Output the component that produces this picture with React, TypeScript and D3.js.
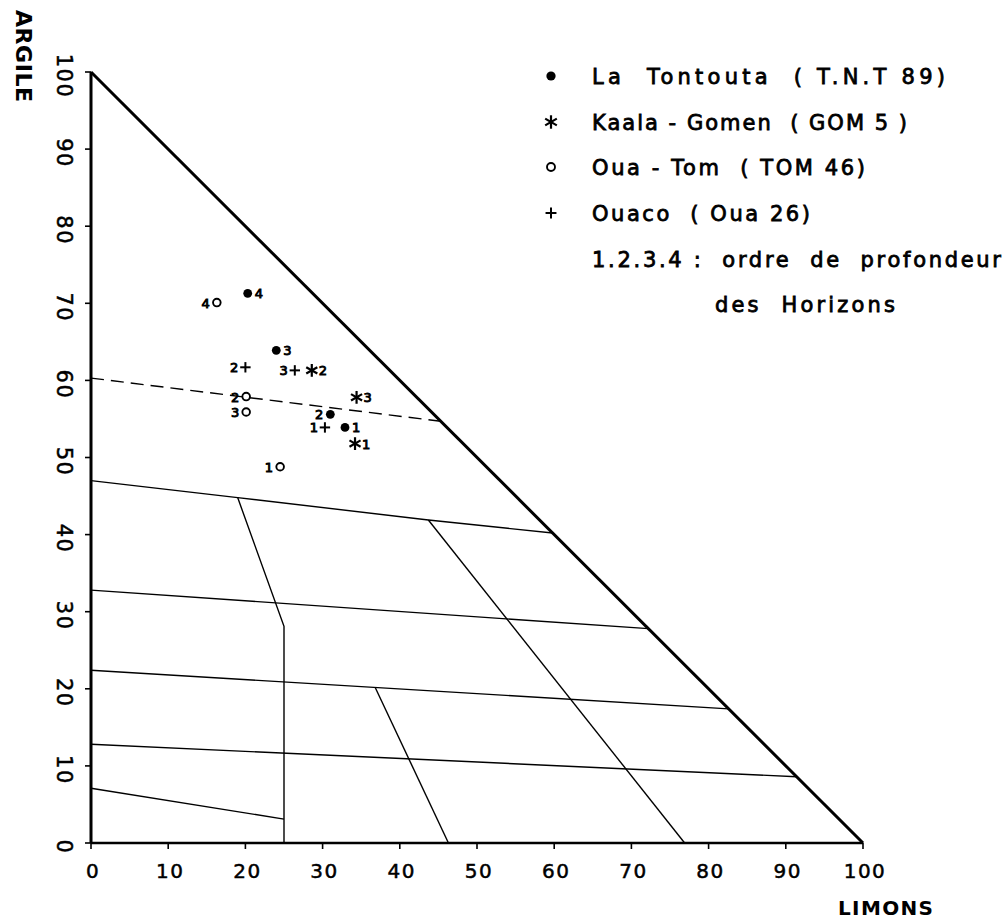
import React from 'react'
import * as d3 from 'd3'

const width = 1005
const height = 922

const limonsTicks = [0, 10, 20, 30, 40, 50, 60, 70, 80, 90, 100]
const argileTicks = [0, 10, 20, 30, 40, 50, 60, 70, 80, 90, 100]

// class boundaries, [limons, argile]
const boundaryA = [[0, 47], [19, 44.8], [43.7, 41.9], [59.8, 40.2]]
const boundaryB = [[0, 32.8], [72.2, 27.8]]
const boundaryC = [[0, 22.4], [82.6, 17.4]]
const boundaryD = [[0, 12.8], [91.4, 8.6]]
const boundaryE = [[0, 7.1], [25, 3.1]]
const divider1 = [[19, 44.8], [25, 28.1], [25, 0]]
const divider2 = [[43.7, 41.9], [76.9, 0]]
const divider3 = [[36.8, 20.2], [46.3, 0]]
const dashedBoundary = [[0, 60.3], [45.3, 54.7]]

// horizons: [horizon, limons, argile]
const tontouta = [[1, 32.9, 53.9], [2, 31.0, 55.6], [3, 24.0, 63.9], [4, 20.3, 71.3]]
const kaalaGomen = [[1, 34.2, 51.8], [2, 28.6, 61.3], [3, 34.4, 57.8]]
const ouaTom = [[1, 24.5, 48.8], [2, 20.1, 57.9], [3, 20.1, 55.9], [4, 16.3, 70.1]]
const ouaco = [[1, 30.3, 53.9], [2, 20.0, 61.7], [3, 26.4, 61.3]]

const legendLabels = [
  'La  Tontouta  ( T.N.T 89)',
  'Kaala - Gomen  ( GOM 5 )',
  'Oua - Tom  ( TOM 46)',
  'Ouaco  ( Oua 26)',
  '1.2.3.4 :  ordre  de  profondeur',
  'des  Horizons',
]

const font = '"DejaVu Sans", sans-serif'

function Marker({ kind, cx, cy, s = 1 }: { kind: string; cx: number; cy: number; s?: number }) {
  if (kind === 'dot') return <circle cx={cx} cy={cy} r={4.4 * s} fill="#000" />
  if (kind === 'ring') return <circle cx={cx} cy={cy} r={3.8 * s} fill="none" stroke="#000" strokeWidth={1.9} />
  if (kind === 'plus') {
    const a = 5.2 * s
    return (
      <g stroke="#000" strokeWidth={2}>
        <line x1={cx - a} y1={cy} x2={cx + a} y2={cy} />
        <line x1={cx} y1={cy - a} x2={cx} y2={cy + a} />
      </g>
    )
  }
  const r = 6.4 * s
  return (
    <g stroke="#000" strokeWidth={2.2}>
      {[90, 30, 150].map(deg => {
        const t = (deg * Math.PI) / 180
        return <line key={deg} x1={cx - r * Math.cos(t)} y1={cy - r * Math.sin(t)} x2={cx + r * Math.cos(t)} y2={cy + r * Math.sin(t)} />
      })}
    </g>
  )
}

export default function App() {
  const x = d3.scaleLinear().domain([0, 100]).range([91, 863])
  const y = d3.scaleLinear().domain([0, 100]).range([843, 72])
  const line = d3.line<number[]>().x(d => x(d[0])).y(d => y(d[1]))

  const thinLines = [boundaryA, boundaryB, boundaryC, boundaryD, boundaryE, divider1, divider2, divider3]

  const series = [
    { kind: 'dot', data: tontouta, left: [2] },
    { kind: 'star', data: kaalaGomen, left: [] as number[] },
    { kind: 'ring', data: ouaTom, left: [1, 2, 3, 4] },
    { kind: 'plus', data: ouaco, left: [1, 2, 3] },
  ]

  const legendY = [76, 122, 167, 213, 259, 304]
  const legendEnd = [945, 907, 865, 810, 1001, 895]
  const legendKinds = ['dot', 'star', 'ring', 'plus']

  return (
    <svg width={width} height={height} style={{ position: 'absolute', left: 0, top: 0, background: '#fff' }}>
      <rect width={width} height={height} fill="#fff" />

      {thinLines.map((l, i) => (
        <path key={i} d={line(l) || ''} fill="none" stroke="#000" strokeWidth={1.4} />
      ))}
      <path d={line(dashedBoundary) || ''} fill="none" stroke="#000" strokeWidth={1.4} strokeDasharray="13 7" />

      {/* triangle */}
      <line x1={x(0)} y1={y(0)} x2={x(0)} y2={y(100)} stroke="#000" strokeWidth={3} />
      <line x1={x(0)} y1={y(0)} x2={x(100)} y2={y(0)} stroke="#000" strokeWidth={2.3} />
      <line x1={x(0)} y1={y(100)} x2={x(100)} y2={y(0)} stroke="#000" strokeWidth={3} />

      {limonsTicks.map(t => (
        <g key={t}>
          <line x1={x(t)} y1={y(0)} x2={x(t)} y2={y(0) + 6} stroke="#000" strokeWidth={1.6} />
          <text x={x(t) + 2} y={878} textAnchor="middle" fontFamily={font} fontSize={20} letterSpacing={1.5}
            stroke="#000" strokeWidth={0.5}>{t}</text>
        </g>
      ))}
      {argileTicks.map(t => (
        <g key={t}>
          <line x1={x(0) - 6} y1={y(t)} x2={x(0)} y2={y(t)} stroke="#000" strokeWidth={1.6} />
          <text x={64} y={y(t) + 4} transform={`rotate(90,64,${y(t) + 4})`} textAnchor="middle" dominantBaseline="central"
            fontFamily={font} fontSize={21} letterSpacing={1.5} stroke="#000" strokeWidth={0.5}>{t}</text>
        </g>
      ))}

      <text x={23} y={56} transform="rotate(90,23,56)" textAnchor="middle" dominantBaseline="central"
        fontFamily={font} fontWeight="bold" fontSize={22} textLength={92} lengthAdjust="spacing">ARGILE</text>
      <text x={838} y={915} fontFamily={font} fontWeight="bold" fontSize={20} textLength={95} lengthAdjust="spacing">LIMONS</text>

      {series.map(s =>
        s.data.map(d => {
          const px = x(d[1])
          const py = y(d[2])
          const left = s.left.includes(d[0])
          return (
            <g key={`${s.kind}-${d[0]}`}>
              <Marker kind={s.kind} cx={px} cy={py} />
              <text x={left ? px - 7 : px + 7} y={py + 5} textAnchor={left ? 'end' : 'start'}
                fontFamily={font} fontSize={13} stroke="#000" strokeWidth={0.9}>{d[0]}</text>
            </g>
          )
        })
      )}

      {legendLabels.map((label, i) => {
        const x0 = i === 5 ? 715 : 592
        return (
          <g key={i}>
            {i < 4 && <Marker kind={legendKinds[i]} cx={551} cy={legendY[i]} s={1.05} />}
            <text x={x0} y={legendY[i] + 8} fontFamily={font} fontSize={21} style={{ whiteSpace: 'pre' }}
              textLength={legendEnd[i] - x0} lengthAdjust="spacing" stroke="#000" strokeWidth={0.8}>{label}</text>
          </g>
        )
      })}
    </svg>
  )
}
